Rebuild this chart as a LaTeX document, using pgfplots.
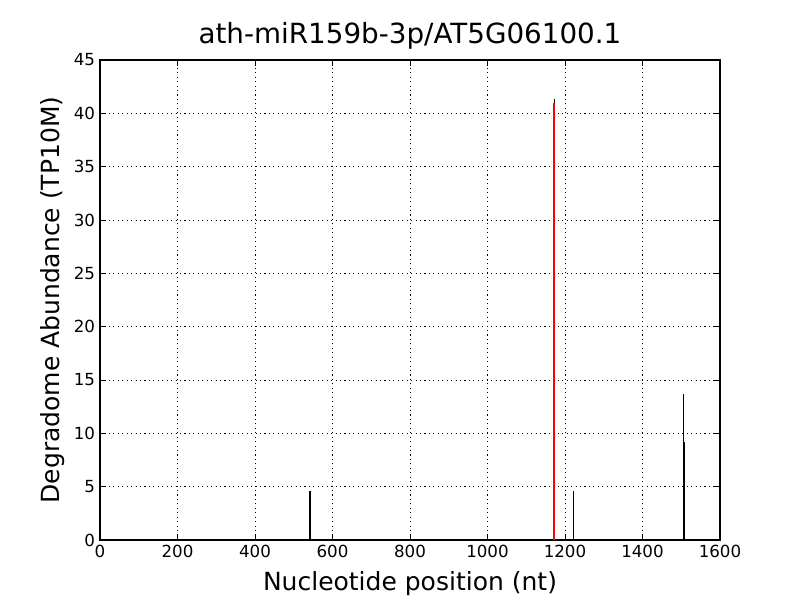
\documentclass[border=0pt]{standalone}
\usepackage{pgfplots}
\pgfplotsset{compat=1.18}
\usepackage{fontspec}
\setmainfont{DejaVu Sans}
\begin{document}
\begin{tikzpicture}
\useasboundingbox (-72pt,-43.2pt) rectangle (504pt,388.8pt);
\begin{axis}[
  at={(0,0)}, anchor=south west,
  scale only axis, width=446.4pt, height=345.6pt,
  xmin=0, xmax=1600, ymin=0, ymax=45,
  xtick={0,200,...,1600}, ytick={0,5,...,45},
  tick align=inside, xtick pos=both, ytick pos=both,
  major tick length=4pt,
  grid=major, grid style={black, line width=0.6pt, dash pattern=on 0.8pt off 2.4pt},
  axis line style={black, line width=0.8pt},
  tick style={black, line width=0.6pt},
  /pgf/number format/assume math mode=true,
  /pgf/number format/set thousands separator={},
  ticklabel style={font=\fontsize{12}{14}\selectfont},
  xlabel={Nucleotide position (nt)},
  ylabel={Degradome Abundance (TP10M)},
  xlabel style={yshift=-3pt},
  label style={font=\fontsize{18}{21}\selectfont},
  title={ath-miR159b-3p/AT5G06100.1},
  title style={font=\fontsize{20}{24}\selectfont, yshift=-2pt},
]
\addplot[ycomb, black, line width=0.8pt, mark=none] coordinates {
 (542,4.6) (1172,41.3) (1221,4.6) (1506,13.7) (1507,9.2)
};
\addplot[ycomb, red, line width=1.5pt, mark=none] coordinates {
 (1171,41.0)
};
\end{axis}
\end{tikzpicture}
\end{document}
